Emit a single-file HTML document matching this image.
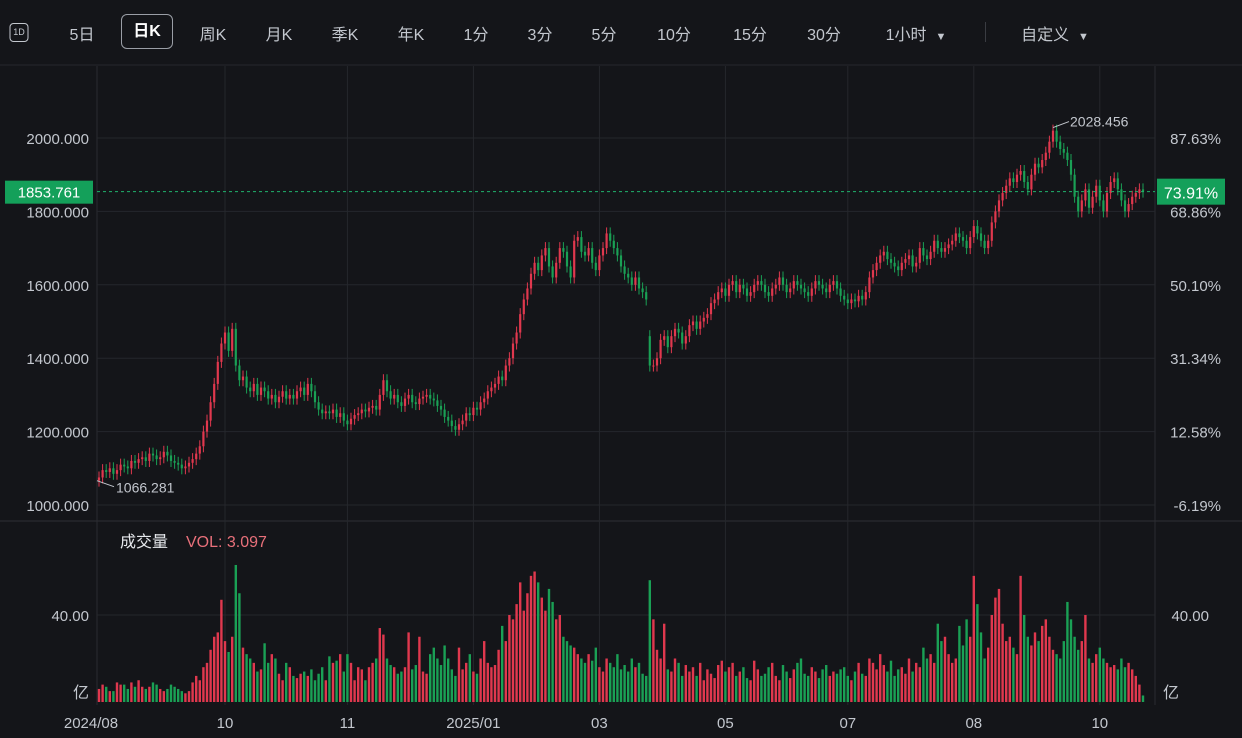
<!DOCTYPE html>
<html><head><meta charset="utf-8">
<style>
html,body{margin:0;padding:0;background:#141519;}
#wrap{position:relative;width:1242px;height:738px;background:#141519;overflow:hidden;font-family:"Liberation Sans","Noto Sans CJK SC",sans-serif;}
.tb{position:absolute;top:21px;font-size:16px;color:#c3c7ce;transform:translateX(-50%);white-space:nowrap;}
svg text{font-family:"Liberation Sans","Noto Sans CJK SC",sans-serif;}
</style></head>
<body>
<div id="wrap">
  <div>
    <div class="tb" style="left:19px;top:23px;width:17px;height:17px;border:1.5px solid #c3c7ce;border-radius:4px;font-size:9px;line-height:17px;text-align:center;">1D</div>
    <div class="tb" style="left:82px">5日</div>
    <div class="tb" style="left:147px;top:14px;width:50px;height:33px;line-height:33px;text-align:center;border:1.5px solid #9a9ea6;border-radius:6px;color:#fff;font-weight:bold">日K</div>
    <div class="tb" style="left:213px">周K</div>
    <div class="tb" style="left:279px">月K</div>
    <div class="tb" style="left:345px">季K</div>
    <div class="tb" style="left:411px">年K</div>
    <div class="tb" style="left:476px">1分</div>
    <div class="tb" style="left:540px">3分</div>
    <div class="tb" style="left:604px">5分</div>
    <div class="tb" style="left:674px">10分</div>
    <div class="tb" style="left:750px">15分</div>
    <div class="tb" style="left:824px">30分</div>
    <div class="tb" style="left:916px">1小时 &nbsp;<span style="font-size:11px">▼</span></div>
    <div style="position:absolute;left:985px;top:22px;width:1px;height:20px;background:#3a3c42"></div>
    <div class="tb" style="left:1055px">自定义 &nbsp;<span style="font-size:11px">▼</span></div>
  </div>
  <svg id="chart" width="1242" height="738" style="position:absolute;left:0;top:0"></svg>
</div>
<script>
const closes=[1075,1095,1090,1100,1085,1095,1110,1105,1100,1120,1115,1125,1130,1120,1140,1135,1125,1130,1145,1135,1120,1115,1110,1100,1105,1115,
1125,1140,1160,1200,1230,1280,1330,1390,1440,1470,
1420,1480,1380,1340,1350,1320,1310,1330,
1300,1320,1310,1290,1300,1280,1295,1310,1290,1300,1290,1310,1320,1300,1330,1310,
1280,1260,1250,1255,1250,1260,1240,1250,1230,1220,1235,
1245,1250,1260,1255,1265,1270,1260,1300,1340,
1310,1290,1300,1280,1270,1290,1300,1280,1275,1290,1295,1300,1290,1285,1270,1260,
1240,1230,1215,1205,1220,
1230,1250,1245,1265,1260,1280,1290,1310,1320,1330,1350,1340,
1380,1400,1440,1470,1520,1560,1590,1630,
1660,1640,1680,1700,1650,1620,1660,1700,1690,1650,1620,1720,1730,1690,
1680,1700,1660,1640,1680,1700,1740,1720,1700,1680,1650,1630,
1620,1600,1620,1590,1580,1560,
1380,1380,1400,1450,1460,1430,1460,1480,1470,1440,1460,
1490,1500,1480,1500,1510,1520,1550,1560,1580,1590,1570,1600,
1610,1580,1600,1590,1570,1580,1600,1610,1600,1580,1570,1590,1600,1620,1600,1580,1590,1610,1600,1590,1580,1570,1590,1610,1600,1590,1580,1600,1610,1590,
1570,1560,1550,1560,1555,1570,1560,1580,
1620,1640,1660,1680,1690,1670,1660,1650,1640,1660,1670,1680,
1650,1660,1700,1680,1670,1690,1720,1700,1690,1700,1710,1720,1740,1730,1720,1700,1730,
1760,1740,1720,1700,1720,1770,1800,1830,
1850,1870,1890,1880,1900,1910,1880,1860,1900,1930,1920,1940,1960,
1990,2020,1990,1970,1960,1940,1900,
1840,1800,1830,1860,1810,1840,1870,1830,1800,1850,1880,1890,1860,1830,1800,1820,1840,1850,1860,1853.761];
const volumes=[6,8,7,5,5,9,8,8,6,9,7,10,7,6,7,9,8,6,5,6,8,7,6,5,4,5,
9,12,10,16,18,24,30,32,47,28,
23,30,63,50,25,22,20,18,
14,15,27,18,22,20,13,10,18,16,12,11,13,14,12,15,
10,13,16,10,21,18,19,22,14,22,18,
10,16,15,10,16,18,20,34,31,
20,17,16,13,14,16,32,15,17,30,14,13,22,25,20,17,
26,20,15,12,25,
15,18,22,14,13,20,28,18,16,17,24,35,
28,40,38,45,55,42,50,58,
60,55,48,42,52,46,38,40,30,28,26,25,22,20,
18,22,19,25,16,14,20,18,16,22,15,17,
14,20,16,18,13,12,
56,38,24,20,36,15,14,20,18,12,17,
14,16,12,18,10,15,13,11,17,19,14,16,
18,12,14,16,11,10,19,15,12,13,16,18,12,10,17,14,11,15,18,20,13,12,16,14,11,15,17,12,14,13,
15,16,12,10,14,18,13,12,
20,18,15,22,17,14,19,12,15,16,13,20,
14,18,16,25,20,22,18,36,28,30,22,18,20,35,26,38,30,
58,45,32,20,25,40,48,52,
36,28,30,25,22,58,40,30,26,32,28,35,38,
30,24,22,20,28,46,38,
30,24,28,40,20,18,22,25,20,18,16,17,15,20,16,18,15,12,8,3];
const firstOpen=1066.281;
const gapIndex=153, gapOpen=1460;
const priceTicks=[2000,1800,1600,1400,1200,1000];
const pctTicks=["87.63%","68.86%","50.10%","31.34%","12.58%","-6.19%"];
const monthLabels=["2024/08","10","11","2025/01","03","05","07","08","10"];
const monthIdx=[0,35,69,104,139,174,208,243,278];
const lastPrice=1853.761, lastPct="73.91%";
const highPrice=2028.456, lowPrice=1066.281;

const svg=document.getElementById('chart');
const NS='http://www.w3.org/2000/svg';
function mk(tag,attrs,parent){const e=document.createElementNS(NS,tag);for(const k in attrs)e.setAttribute(k,attrs[k]);(parent||svg).appendChild(e);return e;}
const X0=99,PITCH=3.6;
function xOf(i){return X0+i*PITCH;}
function yP(p){return 505-(p-1000)*0.367;}
function yV(v){return 702-v*2.175;}
const UP='#e0384e',DN='#1aa055',GRID='#25272c',TXT='#c3c7ce';

let l=mk('line',{x1:0,y1:65,x2:1242,y2:65,stroke:'#26282d'});

l=mk('line',{x1:0,y1:521,x2:1242,y2:521,stroke:'#2e3035'});

l=mk('line',{x1:97,y1:66,x2:97,y2:705,stroke:'#2a2c31'});

l=mk('line',{x1:1155,y1:66,x2:1155,y2:705,stroke:'#2a2c31'});


priceTicks.forEach((p,k)=>{
  const y=yP(p);
  const g=mk('line',{x1:97,y1:y,x2:1155,y2:y,stroke:GRID});
  
  const t=mk('text',{x:89,y:y+6,'text-anchor':'end','font-size':15,fill:TXT});
  t.textContent=p.toFixed(3);
  
  const t2=mk('text',{x:1221,y:y+6,'text-anchor':'end','font-size':15,fill:TXT});
  t2.textContent=pctTicks[k];
  
});
[40].forEach(v=>{
  const y=yV(v);
  const g=mk('line',{x1:97,y1:y,x2:1155,y2:y,stroke:GRID});
  
  const t=mk('text',{x:89,y:y+6,'text-anchor':'end','font-size':15,fill:TXT});t.textContent=v.toFixed(2);
  
  const t2=mk('text',{x:1209,y:y+6,'text-anchor':'end','font-size':15,fill:TXT});t2.textContent=v.toFixed(2);
  
});
let u=mk('text',{x:89,y:698,'text-anchor':'end','font-size':16,fill:TXT});u.textContent='亿';

u=mk('text',{x:1163,y:698,'font-size':16,fill:TXT});u.textContent='亿';


monthLabels.forEach((m,k)=>{
  const x=xOf(monthIdx[k]);
  if(k>0){const g=mk('line',{x1:x,y1:66,x2:x,y2:705,stroke:GRID});
  }
  const t=mk('text',{x:k===0?x-8:x,y:728,'text-anchor':'middle','font-size':15,fill:TXT});t.textContent=m;
  
});

let prev=firstOpen;
closes.forEach((c,i)=>{
  const o=(i===gapIndex)?gapOpen:prev;
  prev=c;
  const up=c>=o, col=up?UP:DN, x=xOf(i);
  const yt=yP(Math.max(o,c)), yb=yP(Math.min(o,c));
  const w=mk('line',{x1:x,y1:yt-6,x2:x,y2:yb+6,stroke:col,'stroke-width':1});
  
  const b=mk('rect',{x:x-1.1,y:yt,width:2.2,height:Math.max(1,yb-yt),fill:col});
  
  const vy=yV(volumes[i]);
  const vb=mk('rect',{x:x-1.2,y:vy,width:2.4,height:702-vy,fill:col});
  
});

let hi=closes.indexOf(Math.max(...closes));
let hx=xOf(hi), hy=yP(highPrice);
l=mk('line',{x1:hx,y1:hy,x2:hx+16,y2:hy-6,stroke:TXT});

let t=mk('text',{x:hx+17,y:hy-1,'font-size':14,fill:TXT});t.textContent=highPrice.toFixed(3);

let ly=yP(lowPrice);
l=mk('line',{x1:97,y1:ly,x2:114,y2:ly+6,stroke:TXT});

t=mk('text',{x:116,y:ly+12,'font-size':14,fill:TXT});t.textContent=lowPrice.toFixed(3);


let lp=yP(lastPrice);
l=mk('line',{x1:97,y1:lp,x2:1155,y2:lp,stroke:'#1fb36c','stroke-dasharray':'3,3'});

let r=mk('rect',{x:5,y:lp-11,width:88,height:23,fill:'#14a05a'});

t=mk('text',{x:49,y:lp+6,'text-anchor':'middle','font-size':15,fill:'#fff'});t.textContent=lastPrice.toFixed(3);

r=mk('rect',{x:1157,y:lp-13,width:68,height:26,fill:'#14a05a'});

t=mk('text',{x:1191,y:lp+7,'text-anchor':'middle','font-size':16,fill:'#fff'});t.textContent=lastPct;


t=mk('text',{x:120,y:547,'font-size':16,fill:'#e6e8ec'});t.textContent='成交量';

t=mk('text',{x:186,y:547,'font-size':16,fill:'#e8707a'});t.textContent='VOL: 3.097';

</script>
</body></html>
